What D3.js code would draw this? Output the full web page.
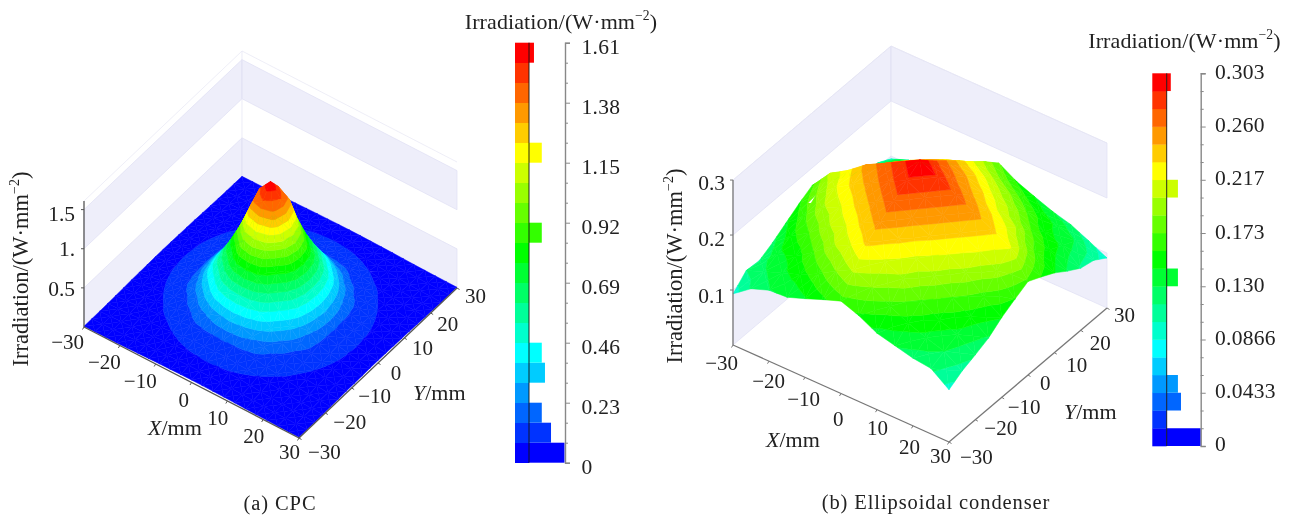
<!DOCTYPE html>
<html><head><meta charset="utf-8">
<script src="https://cdn.jsdelivr.net/npm/d3@7"></script>
<style>html,body{margin:0;padding:0;background:#fff}svg{display:block;filter:blur(0.4px)}text{font-family:"Liberation Serif","Times New Roman",serif;fill:#222}</style>
</head><body><svg id="c" width="1298" height="517"></svg>
<script>
// ---- data ----
const bandColors = ["#0000ff","#0033ff","#0066ff","#0099ff","#00ccff","#00ffff","#00ffcc","#00ff99","#00ff66","#00ff33","#00ff00","#33ff00","#66ff00","#99ff00","#ccff00","#ffff00","#ffcc00","#ff9900","#ff6600","#ff3300","#ff0000"];
const axisTicks = [-30,-20,-10,0,10,20,30];

const zTicksA = [0.5,1,1.5], zLabelsA = ["0.5","1.","1.5"];
const zTicksB = [0.1,0.2,0.3], zLabelsB = ["0.1","0.2","0.3"];
const legendValuesA = [1.61,1.38,1.15,0.92,0.69,0.46,0.23,0];
const legendLabelsA = ["1.61","1.38","1.15","0.92","0.69","0.46","0.23","0"];
const legendValuesB = [0.303,0.260,0.217,0.173,0.130,0.0866,0.0433,0];
const legendLabelsB = ["0.303","0.260","0.217","0.173","0.130","0.0866","0.0433","0"];
const histA = [100,62,36,0,45,36,0,0,0,0,0,36,0,0,0,36,0,0,0,0,14];
const histB = [100,0,42,33,0,0,0,0,0,33,0,0,0,0,33,0,0,0,0,0,12];

// surface heights, rows from Y=+30 down to Y=-30, columns X=-30..30
const surfaceA = [
[.008,.01,.011,.013,.016,.02,.024,.027,.029,.031,.032,.031,.029,.027,.024,.02,.016,.013,.011,.01,.008],
[.01,.011,.014,.018,.024,.028,.035,.041,.047,.05,.052,.05,.047,.041,.035,.028,.024,.018,.014,.011,.01],
[.011,.014,.019,.025,.032,.042,.054,.065,.072,.076,.078,.076,.072,.065,.054,.042,.032,.025,.019,.014,.011],
[.013,.018,.025,.034,.047,.06,.077,.088,.098,.108,.11,.108,.098,.088,.077,.06,.047,.034,.025,.018,.013],
[.016,.024,.032,.047,.066,.083,.102,.125,.14,.15,.155,.15,.14,.125,.102,.083,.066,.047,.032,.024,.016],
[.02,.028,.042,.06,.083,.108,.135,.19,.25,.30,.32,.30,.25,.19,.135,.108,.083,.06,.042,.028,.02],
[.024,.035,.054,.077,.102,.135,.21,.33,.44,.50,.52,.50,.44,.33,.21,.135,.102,.077,.054,.035,.024],
[.027,.041,.065,.088,.125,.19,.33,.46,.62,.74,.78,.74,.62,.46,.33,.19,.125,.088,.065,.041,.027],
[.029,.047,.072,.098,.14,.25,.44,.62,.78,1.02,1.10,1.02,.78,.62,.44,.25,.14,.098,.072,.047,.029],
[.031,.05,.076,.108,.15,.30,.50,.74,1.02,1.36,1.45,1.36,1.02,.74,.50,.30,.15,.108,.076,.05,.031],
[.032,.052,.078,.11,.155,.32,.52,.78,1.10,1.45,1.61,1.45,1.10,.78,.52,.32,.155,.11,.078,.052,.032],
[.031,.05,.076,.108,.15,.30,.50,.74,1.02,1.36,1.45,1.36,1.02,.74,.50,.30,.15,.108,.076,.05,.031],
[.029,.047,.072,.098,.14,.25,.44,.62,.78,1.02,1.10,1.02,.78,.62,.44,.25,.14,.098,.072,.047,.029],
[.027,.041,.065,.088,.125,.19,.33,.46,.62,.74,.78,.74,.62,.46,.33,.19,.125,.088,.065,.041,.027],
[.024,.035,.054,.077,.102,.135,.21,.33,.44,.50,.52,.50,.44,.33,.21,.135,.102,.077,.054,.035,.024],
[.02,.028,.042,.06,.083,.108,.135,.19,.25,.30,.32,.30,.25,.19,.135,.108,.083,.06,.042,.028,.02],
[.016,.024,.032,.047,.066,.083,.102,.125,.14,.15,.155,.15,.14,.125,.102,.083,.066,.047,.032,.024,.016],
[.013,.018,.025,.034,.047,.06,.077,.088,.098,.108,.11,.108,.098,.088,.077,.06,.047,.034,.025,.018,.013],
[.011,.014,.019,.025,.032,.042,.054,.065,.072,.076,.078,.076,.072,.065,.054,.042,.032,.025,.019,.014,.011],
[.01,.011,.014,.018,.024,.028,.035,.041,.047,.05,.052,.05,.047,.041,.035,.028,.024,.018,.014,.011,.01],
[.008,.01,.011,.013,.016,.02,.024,.027,.029,.031,.032,.031,.029,.027,.024,.02,.016,.013,.011,.01,.008]];

const surfaceB = [
[.095,.107,.112,.131,.143,.156,.175,.156,.143,.131,.122,.107,.091],
[.108,.128,.14,.15,.165,.18,.198,.18,.165,.15,.14,.128,.107],
[.113,.14,.15,.172,.19,.205,.218,.205,.19,.172,.15,.14,.113],
[.125,.152,.172,.195,.21,.228,.24,.228,.21,.195,.172,.152,.128],
[.14,.168,.195,.21,.232,.248,.26,.248,.232,.212,.198,.168,.145],
[.155,.185,.205,.228,.25,.265,.28,.265,.25,.235,.218,.195,.158],
[.168,.205,.225,.25,.267,.285,.303,.286,.269,.252,.235,.218,.17],
[.155,.188,.214,.235,.252,.269,.286,.269,.252,.235,.218,.195,.158],
[.14,.168,.198,.214,.235,.252,.269,.252,.235,.217,.198,.168,.145],
[.125,.152,.172,.198,.214,.235,.252,.235,.214,.198,.172,.152,.128],
[.113,.14,.15,.172,.198,.214,.235,.214,.198,.172,.152,.14,.118],
[.115,.128,.14,.152,.168,.188,.205,.188,.168,.152,.14,.13,.109],
[.093,.117,.129,.131,.143,.156,.168,.156,.139,.131,.123,.119,.095]];

// ---- layout config ----
const svg = d3.select("#c");
const charts = [
 {surface:surfaceA,zMax:1.61,zTop:1.61,o:[84,327],xv:[215,111],yv:[158,-150],zh:126,zTicks:zTicksA,zLabels:zLabelsA,strips:[[0,.5],[1,1.5]],
  zLabelX:75,zLabelDy:[3,2.5,6.5],
  xNudge:[[0,17.5],[1,19],[1,19.5],[-2.5,20],[1,19.5],[1,18.5],[1,16.5]],
  yNudge:[[9,16.5],[8,11.5],[6.5,10.5],[12.7,12],[7.7,12.3],[6.5,13.5],[8,10.5]],
  xTitle:[148,430],yTitle:[413,395],zTitle:[23,269],caption:[280,505,"(a) CPC"],
  axisColor:"#555",
  lg:{x0:515,line:529,axis:565,top:42.7,bottom:462.7,label:581.5,dy:6,title:[561,24],hist:histA,values:legendValuesA,labels:legendLabelsA,max:1.61,full:35.5}},
 {surface:surfaceB,zMax:.303,zTop:.3,o:[733,345],xv:[216,97],yv:[158,-134],zh:166.6,zTicks:zTicksB,zLabels:zLabelsB,strips:[[0,.1],[.2,.3]],
  zLabelX:725,zLabelDy:[8,6.5,5.5],
  xNudge:[[5,20.5],[16,22.5],[15,23.5],[2.5,27.5],[11,20.5],[7,23.5],[2,16.5]],
  yNudge:[[11,17.5],[9,10.5],[6,11.5],[12,10.5],[12,14.5],[9,14.5],[7,9.5]],
  xTitle:[766,442],yTitle:[1064,414],zTitle:[677,266],caption:[936,504,"(b) Ellipsoidal condenser"],
  axisColor:"#777",
  lg:{x0:1152.3,line:1166.7,axis:1200.7,top:73.3,bottom:446,label:1215,dy:0.5,title:[1184.5,43],hist:histB,values:legendValuesB,labels:legendLabelsB,max:.303,full:34}}
];

function sup(sel){
  sel.append("tspan").text("Irradiation/(W·mm");
  sel.append("tspan").attr("dy",-7).style("font-size","0.62em").text("−2");
  sel.append("tspan").attr("dy",7).text(")");
}
function italicTitle(g,pos,ch){
  const t=g.append("text").attr("x",pos[0]).attr("y",pos[1]).attr("dominant-baseline","middle").style("font-size","22px");
  t.append("tspan").style("font-style","italic").text(ch);
  t.append("tspan").text("/mm");
}

charts.forEach(c=>{
  const g=svg.append("g");
  const sxx=d3.scaleLinear([-30,30],[0,c.xv[0]]), sxy=d3.scaleLinear([-30,30],[0,c.xv[1]]);
  const syx=d3.scaleLinear([-30,30],[0,c.yv[0]]), syy=d3.scaleLinear([-30,30],[0,c.yv[1]]);
  const sz=d3.scaleLinear([0,c.zMax],[0,-c.zh]);
  const P=(x,y,z=0)=>[c.o[0]+sxx(x)+syx(y), c.o[1]+sxy(x)+syy(y)+sz(z)];
  const line=d3.line();
  // walls
  const walls=[[[-30,-30],[-30,30]],[[-30,30],[30,30]]];
  walls.forEach(w=>{
    c.strips.forEach(s=>{
      g.append("path").attr("fill","#eeeefa").attr("stroke","#e0e0f3").attr("stroke-width",.7)
       .attr("d",line([P(...w[0],s[0]),P(...w[1],s[0]),P(...w[1],s[1]),P(...w[0],s[1])])+"Z");
    });
    g.append("path").attr("fill","none").attr("stroke","#e6e6f4").attr("stroke-width",.7)
     .attr("d",line([P(...w[0],c.zTop),P(...w[1],c.zTop)]));
  });
  g.append("path").attr("stroke","#e4e4f4").attr("stroke-width",.7).attr("d",line([P(-30,30,0),P(-30,30,c.zTop)]));

  // surface: each cell cut into 4 triangles around its centre, each clipped to colour bands
  const S=c.surface, nr=S.length, nc=S[0].length, step=c.zMax/21;
  const xs=d3.scaleLinear([0,nc-1],[-30,30]), ys=d3.scaleLinear([0,nr-1],[30,-30]);
  const polys=[];
  function clip(poly,lim,keepAbove){
    const out=[];
    for(let i=0;i<poly.length;i++){
      const a=poly[i],b=poly[(i+1)%poly.length];
      const ia=keepAbove?a[2]>=lim:a[2]<=lim, ib=keepAbove?b[2]>=lim:b[2]<=lim;
      if(ia)out.push(a);
      if(ia!==ib){const t=(lim-a[2])/(b[2]-a[2]);out.push([a[0]+t*(b[0]-a[0]),a[1]+t*(b[1]-a[1]),lim]);}
    }
    return out;
  }
  function addTri(t){
    const zs=t.map(v=>v[2]),mn=d3.min(zs),mx=d3.max(zs);
    for(let k=0;k<21;k++){
      const lo=k*step,hi=k===20?1e9:(k+1)*step;
      if(mx<lo||mn>hi)continue;
      let p=clip(t,lo,true); if(p.length<3)continue;
      p=clip(p,hi,false); if(p.length<3)continue;
      polys.push({d:line(p.map(v=>P(v[0],v[1],v[2])))+"Z",color:bandColors[k]});
    }
  }
  for(let r=0;r<nr-1;r++)for(let q=0;q<nc-1;q++){
    const A=[xs(q),ys(r),S[r][q]],B=[xs(q+1),ys(r),S[r][q+1]],C=[xs(q+1),ys(r+1),S[r+1][q+1]],D=[xs(q),ys(r+1),S[r+1][q]];
    const M=[(A[0]+B[0])/2,(A[1]+D[1])/2,(A[2]+B[2]+C[2]+D[2])/4];
    addTri([A,B,M]);addTri([B,C,M]);addTri([D,A,M]);addTri([C,D,M]);
  }
  g.append("g").selectAll("path").data(polys).join("path")
   .attr("d",d=>d.d).attr("fill",d=>d.color).attr("stroke",d=>d.color).attr("stroke-width",.5).attr("stroke-linejoin","round");

  // axes
  const ax=g.append("g").attr("stroke",c.axisColor).attr("stroke-width",1.3).attr("fill","none");
  ax.append("path").attr("d",line([P(-30,-30),P(30,-30)]));
  ax.append("path").attr("d",line([P(30,-30),P(30,30)]));
  ax.append("path").attr("d",line([P(-30,-30,0),P(-30,-30,c.zTop)]));
  axisTicks.forEach(t=>{
    const a=P(t,-30),b=P(30,t);
    ax.append("path").attr("stroke-width",1).attr("d",line([a,[a[0]-1.5,a[1]+2.5]]));
    ax.append("path").attr("stroke-width",1).attr("d",line([b,[b[0]+2.5,b[1]+1.5]]));
  });
  c.zTicks.forEach(t=>{
    const a=P(-30,-30,t);
    ax.append("path").attr("stroke-width",1).attr("d",line([a,[a[0]-3,a[1]]]));
  });
  // tick labels
  axisTicks.forEach((t,i)=>{
    const a=P(t,-30),b=P(30,t);
    g.append("text").attr("x",a[0]+c.xNudge[i][0]).attr("y",a[1]+c.xNudge[i][1]).attr("text-anchor","end").attr("dominant-baseline","middle").style("font-size","21px").text(String(t).replace("-","−"));
    g.append("text").attr("x",b[0]+c.yNudge[i][0]).attr("y",b[1]+c.yNudge[i][1]).attr("dominant-baseline","middle").style("font-size","21px").text(String(t).replace("-","−"));
  });
  c.zTicks.forEach((t,i)=>{
    const a=P(-30,-30,t);
    g.append("text").attr("x",c.zLabelX).attr("y",a[1]+c.zLabelDy[i]).attr("text-anchor","end").attr("dominant-baseline","middle").style("font-size","21.5px").text(c.zLabels[i]);
  });
  italicTitle(g,c.xTitle,"X"); italicTitle(g,c.yTitle,"Y");
  sup(g.append("text").attr("transform",`translate(${c.zTitle[0]},${c.zTitle[1]}) rotate(-90)`).attr("text-anchor","middle").attr("dominant-baseline","middle").style("font-size","22.5px"));
  g.append("text").attr("x",c.caption[0]).attr("y",c.caption[1]).attr("text-anchor","middle").attr("dominant-baseline","middle").style("font-size","20.5px").style("letter-spacing",".9px").text(c.caption[2]);

  // legend
  const L=c.lg, ly=d3.scaleLinear([0,L.max],[L.bottom,L.top]), lstep=L.max/21;
  const hx=d3.scaleLinear([0,100],[0,L.full]);
  const bins=bandColors.map((col,k)=>({col,k,h:L.hist[k]}));
  g.append("g").selectAll("rect").data(bins).join("rect")
   .attr("x",L.x0).attr("width",L.line-L.x0).attr("y",d=>ly((d.k+1)*lstep)).attr("height",d=>ly(d.k*lstep)-ly((d.k+1)*lstep)+.3).attr("fill",d=>d.col);
  g.append("g").selectAll("rect").data(bins.filter(d=>d.h>0)).join("rect")
   .attr("x",L.line).attr("width",d=>hx(d.h)).attr("y",d=>ly((d.k+1)*lstep)).attr("height",d=>ly(d.k*lstep)-ly((d.k+1)*lstep)).attr("fill",d=>d.col);
  g.append("line").attr("x1",L.line).attr("x2",L.line).attr("y1",L.top).attr("y2",L.bottom).attr("stroke","#111").attr("stroke-width",.9);
  const axG=g.append("g").attr("transform",`translate(${L.axis},0)`).call(
    d3.axisRight(ly).tickValues(d3.range(22).filter(k=>k%3!==0).map(k=>k*lstep)).tickSize(3).tickFormat(""));
  axG.select(".domain").remove();
  axG.selectAll("line").attr("stroke","#888").attr("stroke-width",1);
  const axM=g.append("g").attr("transform",`translate(${L.axis},0)`).call(
    d3.axisRight(ly).tickValues(d3.range(8).map(k=>k*3*lstep)).tickSize(5).tickFormat(""));
  axM.select(".domain").attr("stroke","#888").attr("stroke-width",1.4);
  axM.selectAll("line").attr("stroke","#888").attr("stroke-width",1);
  L.values.forEach((v,i)=>{
    g.append("text").attr("x",L.label).attr("y",ly(v)+L.dy).attr("dominant-baseline","middle").style("font-size","21.5px").style("letter-spacing",".3px").text(L.labels[i]);
  });
  sup(g.append("text").attr("x",L.title[0]).attr("y",L.title[1]).attr("text-anchor","middle").attr("dominant-baseline","middle").style("font-size","22px").style("letter-spacing",".1px"));
});
</script></body></html>
